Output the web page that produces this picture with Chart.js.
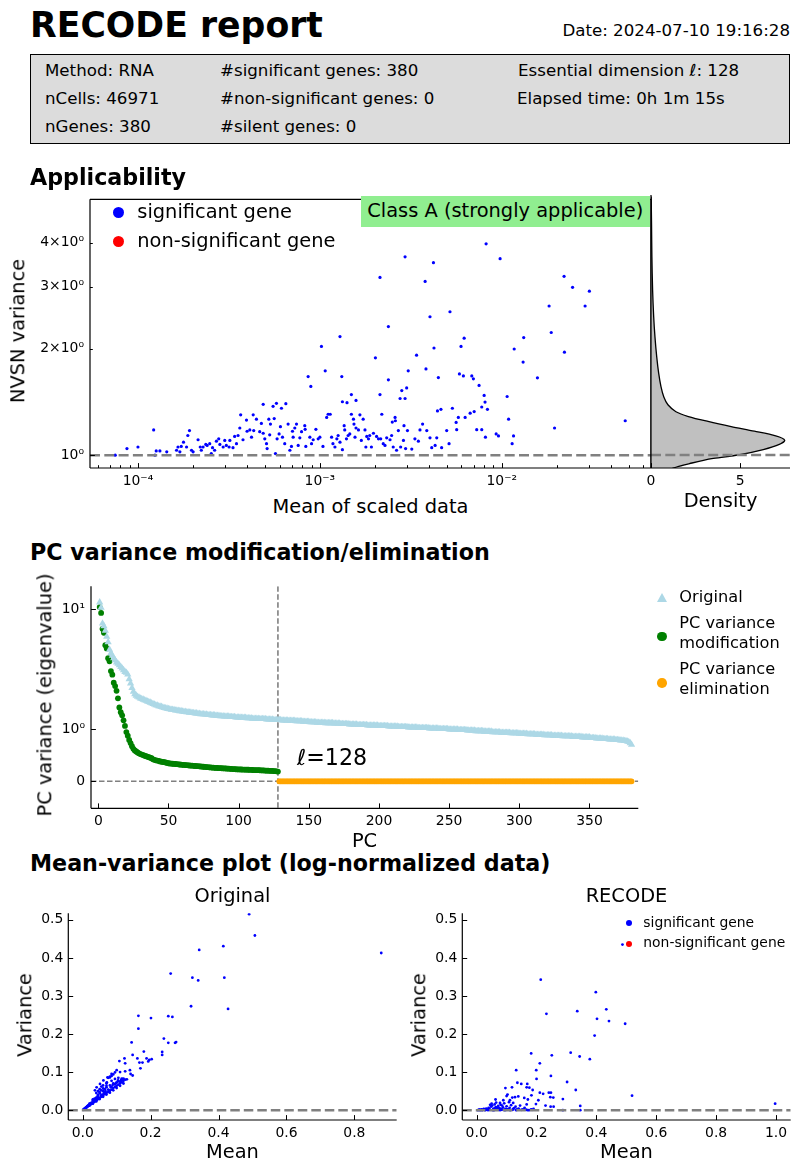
<!DOCTYPE html>
<html>
<head>
<meta charset="utf-8">
<title>RECODE report</title>
<script src="https://cdn.jsdelivr.net/npm/chart.js@4.4.1/dist/chart.umd.min.js"></script>
<style>
  body { margin: 0; background: #fff; }
  #page { position: relative; width: 800px; height: 1173px; overflow: hidden; font-family: 'DejaVu Sans', sans-serif; color: #000; }
  .t { position: absolute; white-space: nowrap; line-height: 1; }
  .v { position: absolute; white-space: nowrap; line-height: 1; transform: translate(-50%, -50%) rotate(-90deg); }
  canvas { position: absolute; }
  .dot { position: absolute; border-radius: 50%; }
  #infoBox { position: absolute; left: 30px; top: 54px; width: 758px; height: 88px; background: #dcdcdc; border: 1px solid #000; }
  #classBox { position: absolute; left: 361px; top: 196px; width: 289px; height: 31px; background: #90ee90; }
  #triMark { position: absolute; left: 657px; top: 593px; width: 10px; height: 9px; background: #add8e6; clip-path: polygon(50% 0, 100% 100%, 0 100%); }
</style>
</head>
<body>
<div id="page">
  <div id="infoBox"></div>
  <canvas id="appChart" width="640" height="310" style="left:20px;top:185px"></canvas>
  <canvas id="densChart" width="159" height="310" style="left:641px;top:185px"></canvas>
  <div id="classBox"></div>
  <canvas id="pcChart" width="630" height="265" style="left:20px;top:572px"></canvas>
  <div id="triMark"></div>
  <canvas id="mvOrigChart" width="400" height="250" style="left:0;top:900px"></canvas>
  <canvas id="mvRecChart" width="400" height="250" style="left:400px;top:900px"></canvas>
</div>
<script>
// ---- data ----

// Applicability: mean of scaled data vs NVSN variance (significant genes)
const appMean = [
  7.5e-5, 8.7e-5, 1.0e-4, 1.22e-4, 1.24e-4, 1.26e-4, 1.32e-4, 1.44e-4, 1.63e-4, 1.66e-4,
  1.70e-4, 1.73e-4, 1.78e-4, 1.85e-4, 1.88e-4, 1.92e-4, 1.97e-4, 2.01e-4, 2.14e-4, 2.20e-4,
  2.23e-4, 2.28e-4, 2.36e-4, 2.40e-4, 2.48e-4, 2.53e-4, 2.57e-4, 2.64e-4, 2.70e-4, 2.78e-4,
  2.82e-4, 2.94e-4, 3.00e-4, 3.06e-4, 3.17e-4, 3.20e-4, 3.33e-4, 3.40e-4, 3.48e-4, 3.55e-4,
  3.63e-4, 3.67e-4, 3.78e-4, 3.95e-4, 3.98e-4, 4.12e-4, 4.21e-4, 4.30e-4, 4.33e-4, 4.48e-4,
  4.67e-4, 4.77e-4, 4.88e-4, 4.88e-4, 4.98e-4, 5.09e-4, 5.13e-4, 5.24e-4, 5.30e-4, 5.35e-4,
  5.53e-4, 5.61e-4, 5.70e-4, 5.77e-4, 5.82e-4, 5.97e-4, 6.07e-4, 6.15e-4, 6.23e-4, 6.41e-4,
  6.50e-4, 6.69e-4, 6.84e-4, 6.98e-4, 7.07e-4, 7.13e-4, 7.28e-4, 7.44e-4, 7.60e-4, 7.76e-4,
  7.93e-4, 8.26e-4, 8.30e-4, 8.37e-4, 8.62e-4, 8.81e-4, 8.92e-4, 9.00e-4, 9.19e-4, 9.51e-4,
  9.79e-4, 1.00e-3, 1.02e-3, 1.04e-3, 1.07e-3, 1.09e-3, 1.11e-3,
  1.29e-3, 1.32e-3, 1.33e-3, 1.41e-3, 1.49e-3, 1.58e-3, 1.14e-3, 1.16e-3, 1.18e-3, 1.21e-3,
  1.24e-3, 1.26e-3, 1.29e-3, 1.33e-3, 1.36e-3, 1.37e-3, 1.40e-3, 1.43e-3, 1.46e-3, 1.49e-3,
  1.53e-3, 1.54e-3, 1.56e-3, 1.58e-3, 1.63e-3, 1.66e-3, 1.69e-3, 1.73e-3, 1.77e-3, 1.79e-3,
  1.81e-3, 1.85e-3, 1.88e-3, 1.92e-3, 1.97e-3, 2.02e-3, 2.05e-3, 2.10e-3, 2.14e-3, 2.14e-3,
  2.16e-3, 2.19e-3, 2.23e-3, 2.28e-3, 2.33e-3, 2.38e-3, 2.38e-3, 2.43e-3, 2.48e-3, 2.50e-3,
  2.53e-3, 2.59e-3, 2.60e-3, 2.64e-3, 2.70e-3, 2.76e-3, 2.78e-3, 2.82e-3, 2.88e-3, 2.90e-3,
  2.94e-3, 2.94e-3, 2.96e-3, 3.00e-3, 3.03e-3, 3.06e-3, 3.20e-3, 3.33e-3, 3.40e-3, 3.48e-3,
  3.55e-3, 3.67e-3, 3.79e-3, 3.83e-3, 3.87e-3, 4.03e-3, 4.03e-3, 4.12e-3, 4.21e-3, 4.24e-3,
  4.30e-3, 4.39e-3, 4.43e-3, 4.48e-3, 4.63e-3, 4.67e-3, 4.98e-3, 5.13e-3, 5.19e-3, 5.35e-3,
  5.61e-3, 5.65e-3, 5.77e-3, 5.85e-3, 5.97e-3, 6.15e-3, 6.21e-3, 6.29e-3, 6.70e-3, 6.84e-3,
  6.98e-3, 7.05e-3, 7.28e-3, 7.50e-3, 7.76e-3, 7.76e-3, 8.00e-3, 8.09e-3, 8.13e-3, 8.20e-3,
  8.34e-3, 9.31e-3, 9.59e-3, 9.79e-3, 1.07e-2, 1.09e-2, 1.14e-2, 1.16e-2, 1.17e-2, 1.31e-2,
  1.32e-2, 1.57e-2, 1.82e-2, 1.87e-2, 1.95e-2, 2.20e-2, 2.21e-2, 2.45e-2, 2.87e-2, 3.03e-2,
  4.77e-2
];
const appVar = [
  1.000, 1.044, 1.055, 1.179, 1.000, 1.028, 1.028, 1.022, 1.033, 1.055,
  1.022, 1.059, 1.089, 1.055, 1.137, 1.174, 1.033, 1.022, 1.106, 1.055,
  1.033, 1.055, 1.073, 1.066, 1.078, 1.011, 1.050, 1.033, 1.096, 1.113,
  1.073, 1.055, 1.101, 1.066, 1.055, 1.101, 1.050, 1.130, 1.078, 1.137,
  1.194, 1.301, 1.106, 1.257, 1.169, 1.179, 1.125, 1.301, 1.174, 1.265,
  1.166, 1.230, 1.393, 1.154, 1.113, 1.078, 1.044, 1.265, 1.142, 1.225,
  1.375, 1.270, 1.011, 1.402, 1.113, 1.149, 1.204, 1.358, 1.125, 1.078,
  1.399, 1.225, 1.033, 1.059, 1.169, 1.125, 1.194, 1.225, 1.066, 1.120,
  1.166, 1.212, 1.184, 1.059, 1.670, 1.125, 1.566, 1.078, 1.106, 1.184,
  1.113, 1.125, 2.032, 1.059, 1.733, 1.279, 1.306,
  2.167, 1.670, 1.417, 1.408, 1.485, 1.429, 1.306, 1.125, 1.078, 1.055,
  1.113, 1.137, 1.089, 1.037, 1.212, 1.179, 1.113, 1.137, 1.149, 1.306,
  1.265, 1.225, 1.125, 1.194, 1.179, 1.301, 1.101, 1.265, 1.179, 1.055,
  1.130, 1.113, 1.137, 1.055, 1.154, 1.887, 1.130, 1.113, 1.485, 3.187,
  1.113, 1.306, 1.078, 1.066, 1.120, 2.313, 1.635, 1.106, 1.137, 1.241,
  1.055, 1.279, 1.252, 1.033, 1.174, 1.447, 1.055, 1.524, 1.101, 1.212,
  3.643, 1.447, 1.044, 1.550, 1.174, 1.733, 1.041, 1.113, 1.919, 1.096,
  1.179, 1.225, 3.105, 1.755, 1.174, 2.466, 1.120, 1.050, 3.508, 2.011,
  1.066, 1.120, 1.335, 1.659, 1.349, 1.050, 1.174, 1.078, 2.547, 1.358,
  1.238, 1.181, 1.279, 1.699, 2.032, 1.677, 2.144, 1.279, 1.315, 1.677,
  1.645, 1.329, 1.181, 1.576, 1.369, 1.181, 1.476, 1.414, 1.125, 3.967,
  1.349, 1.149, 1.134, 3.600, 1.466, 1.265, 1.078, 1.134, 1.998, 1.835,
  2.153, 1.656, 2.645, 2.225, 1.194, 3.208, 1.957, 2.987, 2.645, 2.912,
  1.252
];

// Density of NVSN variance (side panel)
const densValue = [0.6, 1.2, 2.3, 3.5, 4.9, 6.3, 7.2, 7.5, 7.0, 5.8, 4.5, 3.2, 2.1, 1.4, 0.95, 0.72, 0.56, 0.43, 0.32, 0.22, 0.15, 0.09, 0.05, 0.03, 0.01];
const densVar = [0.88, 0.918, 0.95, 0.978, 1.0, 1.035, 1.07, 1.10, 1.13, 1.165, 1.20, 1.24, 1.28, 1.32, 1.38, 1.45, 1.55, 1.69, 1.88, 2.14, 2.43, 2.88, 3.57, 4.42, 5.25];

// PC variance: original eigenvalues (PC 1..380)
const origEig = [
  11.4, 10.3, 7.6, 7.2, 6.6, 5.9, 5.3, 4.6, 4.3, 4.1,
  3.9, 3.75, 3.6, 3.5, 3.4, 3.3, 3.2, 3.1, 3.0, 2.95,
  2.85, 2.6, 2.4, 2.2, 2.05, 1.95, 1.9, 1.86, 1.83, 1.80,
  1.78, 1.76, 1.74, 1.72, 1.70, 1.68, 1.66, 1.64, 1.62, 1.60,
  1.58, 1.57, 1.55, 1.54, 1.53, 1.51, 1.50, 1.49, 1.48, 1.47,
  1.46, 1.45, 1.45, 1.44, 1.43, 1.43, 1.42, 1.41, 1.41, 1.40,
  1.39, 1.39, 1.38, 1.38, 1.37, 1.37, 1.36, 1.36, 1.35, 1.35,
  1.34, 1.34, 1.33, 1.33, 1.33, 1.32, 1.32, 1.31, 1.31, 1.31,
  1.30, 1.30, 1.30, 1.29, 1.29, 1.29, 1.28, 1.28, 1.28, 1.27,
  1.27, 1.27, 1.27, 1.26, 1.26, 1.26, 1.26, 1.25, 1.25, 1.25,
  1.25, 1.24, 1.24, 1.24, 1.24, 1.23, 1.23, 1.23, 1.23, 1.22,
  1.22, 1.22, 1.22, 1.22, 1.21, 1.21, 1.21, 1.21, 1.21, 1.20,
  1.20, 1.20, 1.20, 1.20, 1.19, 1.19, 1.19, 1.19,
  1.19, 1.19, 1.18, 1.18, 1.18, 1.18, 1.18, 1.17, 1.17, 1.17,
  1.17, 1.17, 1.16, 1.16, 1.16, 1.16, 1.16, 1.15, 1.15, 1.15,
  1.15, 1.15, 1.14, 1.14, 1.14, 1.14, 1.14, 1.13, 1.13, 1.13,
  1.13, 1.13, 1.13, 1.12, 1.12, 1.12, 1.12, 1.12, 1.12, 1.11,
  1.11, 1.11, 1.11, 1.11, 1.10, 1.10, 1.10, 1.10, 1.10, 1.10,
  1.09, 1.09, 1.09, 1.09, 1.09, 1.09, 1.08, 1.08, 1.08, 1.08,
  1.08, 1.08, 1.08, 1.07, 1.07, 1.07, 1.07, 1.07, 1.07, 1.07,
  1.07, 1.06, 1.06, 1.06, 1.06, 1.06, 1.06, 1.06, 1.05, 1.05,
  1.05, 1.05, 1.05, 1.05, 1.05, 1.04, 1.04, 1.04, 1.04, 1.04,
  1.04, 1.04, 1.03, 1.03, 1.03, 1.03, 1.03, 1.03, 1.03, 1.02,
  1.02, 1.02, 1.02, 1.02, 1.02, 1.02, 1.02, 1.01, 1.01, 1.01,
  1.01, 1.01, 1.01, 1.01, 1.00, 1.00, 1.00, 1.00, 1.00, 1.00,
  1.00, 0.99, 0.99, 0.99, 0.99, 0.99, 0.99, 0.99, 0.98, 0.98,
  0.98, 0.98, 0.98, 0.98, 0.97, 0.97, 0.97, 0.97, 0.97, 0.97,
  0.96, 0.96, 0.96, 0.96, 0.96, 0.96, 0.95, 0.95, 0.95, 0.95,
  0.95, 0.95, 0.94, 0.94, 0.94, 0.94, 0.94, 0.94, 0.93, 0.93,
  0.93, 0.93, 0.93, 0.93, 0.93, 0.92, 0.92, 0.92, 0.92, 0.92,
  0.92, 0.91, 0.91, 0.91, 0.91, 0.91, 0.91, 0.90, 0.90, 0.90,
  0.90, 0.90, 0.90, 0.89, 0.89, 0.89, 0.89, 0.89, 0.89, 0.88,
  0.88, 0.88, 0.88, 0.88, 0.88, 0.87, 0.87, 0.87, 0.87, 0.87,
  0.87, 0.87, 0.86, 0.86, 0.86, 0.86, 0.86, 0.86, 0.86, 0.85,
  0.85, 0.85, 0.85, 0.85, 0.85, 0.85, 0.84, 0.84, 0.84, 0.84,
  0.84, 0.84, 0.83, 0.83, 0.83, 0.83, 0.82, 0.82, 0.82, 0.82,
  0.82, 0.81, 0.81, 0.81, 0.81, 0.80, 0.80, 0.80, 0.80, 0.80,
  0.79, 0.79, 0.79, 0.78, 0.78, 0.78, 0.77, 0.77, 0.76, 0.75,
  0.73, 0.70
];
// modified eigenvalues for PC 1..128
const modEig = [
  10.4, 9.3, 6.85, 6.35, 5.0, 4.7, 3.9, 3.67, 3.04, 2.84,
  2.43, 2.28, 2.08, 1.80, 1.51, 1.38, 1.30, 1.18, 1.06, 0.94,
  0.87, 0.79, 0.73, 0.67, 0.62, 0.59, 0.57, 0.55, 0.535, 0.52,
  0.51, 0.50, 0.49, 0.48, 0.47, 0.46, 0.45, 0.44, 0.42, 0.41,
  0.40, 0.395, 0.39, 0.38, 0.375, 0.37, 0.365, 0.36, 0.35, 0.345,
  0.34, 0.338, 0.335, 0.332, 0.33, 0.327, 0.324, 0.321, 0.318, 0.314,
  0.312, 0.31, 0.308, 0.305, 0.302, 0.3, 0.298, 0.295, 0.292, 0.29,
  0.288, 0.285, 0.283, 0.28, 0.278, 0.275, 0.272, 0.27, 0.267, 0.264,
  0.262, 0.26, 0.258, 0.256, 0.254, 0.252, 0.25, 0.249, 0.248, 0.246,
  0.244, 0.242, 0.24, 0.238, 0.236, 0.234, 0.232, 0.23, 0.229, 0.227,
  0.226, 0.225, 0.224, 0.223, 0.222, 0.221, 0.22, 0.219, 0.218, 0.216,
  0.215, 0.214, 0.213, 0.212, 0.211, 0.21, 0.208, 0.207, 0.205, 0.203,
  0.202, 0.2, 0.199, 0.197, 0.195, 0.193, 0.19, 0.185
];
const essentialDim = 128;
// PCs beyond the essential dimension are eliminated (variance set to 0)
const elimEig = new Array(origEig.length - essentialDim).fill(0);

// Mean-variance, original log-normalized data
const origMvMean = [
  0.490, 0.507, 0.343, 0.414, 0.879, 0.259, 0.323, 0.340, 0.417, 0.319,
  0.428, 0.164, 0.252, 0.264, 0.201, 0.164, 0.239, 0.144, 0.252, 0.272,
  0.275, 0.234, 0.234, 0.180, 0.147, 0.161, 0.188, 0.203, 0.193, 0.196,
  0.167, 0.176, 0.170, 0.123, 0.108, 0.125, 0.100, 0.095, 0.125, 0.139,
  0.141, 0.147, 0.085, 0.073, 0.080, 0.061, 0.071, 0.051, 0.041, 0.036,
  0.005, 0.008, 0.010, 0.012, 0.015, 0.018, 0.020, 0.022, 0.025, 0.028,
  0.030, 0.032, 0.035, 0.038, 0.040, 0.042, 0.045, 0.048, 0.050, 0.055,
  0.060, 0.065, 0.070, 0.075, 0.080, 0.085, 0.090, 0.095, 0.100, 0.105,
  0.110, 0.115, 0.120,
  0.020, 0.030, 0.040, 0.045, 0.050, 0.060, 0.065, 0.070, 0.080, 0.090,
  0.100, 0.110,
  0.040, 0.045, 0.050, 0.055, 0.060, 0.070, 0.075, 0.080, 0.085, 0.090,
  0.110, 0.104, 0.115,
  0.002, 0.003, 0.004, 0.006, 0.007, 0.009, 0.011, 0.013, 0.016, 0.019,
  0.021, 0.024, 0.027, 0.033, 0.037, 0.043, 0.053, 0.058, 0.068, 0.078,
  0.010, 0.020, 0.030, 0.040, 0.050, 0.060, 0.070, 0.080, 0.090, 0.100,
  0.110, 0.120,
  0.015, 0.025, 0.035, 0.045, 0.055, 0.065, 0.075, 0.085, 0.095, 0.105,
  0.115,
  0.030, 0.050, 0.060, 0.070, 0.085, 0.095, 0.105, 0.120, 0.125, 0.130,
  0.035, 0.055, 0.013, 0.017, 0.023, 0.026, 0.044, 0.062, 0.067, 0.083,
  0.088, 0.098, 0.113, 0.118
];
const origMvVar = [
  0.515, 0.459, 0.421, 0.431, 0.413, 0.359, 0.348, 0.341, 0.348, 0.273,
  0.266, 0.248, 0.247, 0.245, 0.242, 0.214, 0.188, 0.178, 0.177, 0.177,
  0.179, 0.153, 0.145, 0.154, 0.145, 0.136, 0.136, 0.134, 0.128, 0.132,
  0.125, 0.125, 0.110, 0.136, 0.129, 0.123, 0.105, 0.099, 0.102, 0.105,
  0.095, 0.091, 0.095, 0.086, 0.086, 0.078, 0.073, 0.069, 0.060, 0.052,
  0.003, 0.005, 0.006, 0.008, 0.010, 0.012, 0.013, 0.014, 0.016, 0.018,
  0.019, 0.021, 0.023, 0.024, 0.026, 0.027, 0.029, 0.031, 0.032, 0.035,
  0.038, 0.042, 0.045, 0.048, 0.051, 0.054, 0.058, 0.061, 0.064, 0.067,
  0.070, 0.073, 0.077,
  0.017, 0.026, 0.033, 0.040, 0.044, 0.050, 0.055, 0.060, 0.065, 0.070,
  0.073, 0.075,
  0.045, 0.050, 0.055, 0.062, 0.065, 0.070, 0.085, 0.088, 0.090, 0.094,
  0.100, 0.078, 0.078,
  0.001, 0.002, 0.002, 0.004, 0.005, 0.006, 0.008, 0.009, 0.011, 0.013,
  0.015, 0.017, 0.020, 0.025, 0.028, 0.030, 0.037, 0.040, 0.046, 0.052,
  0.006, 0.012, 0.017, 0.023, 0.029, 0.035, 0.041, 0.046, 0.052, 0.058,
  0.064, 0.070,
  0.011, 0.018, 0.025, 0.032, 0.040, 0.047, 0.054, 0.061, 0.068, 0.076,
  0.083,
  0.028, 0.047, 0.057, 0.064, 0.077, 0.082, 0.085, 0.083, 0.080, 0.081,
  0.030, 0.052, 0.010, 0.013, 0.018, 0.019, 0.036, 0.044, 0.050, 0.060,
  0.066, 0.071, 0.079, 0.081
];

// Mean-variance after RECODE
const recMvMean = [
  0.214, 0.398, 0.402, 0.433, 0.442, 0.496, 0.233, 0.336, 0.394, 0.314,
  0.344, 0.378, 0.182, 0.251, 0.211, 0.132, 0.199, 0.248, 0.200, 0.302,
  0.331, 0.519, 0.997, 0.346, 0.346, 0.288, 0.288, 0.256, 0.241, 0.248,
  0.222, 0.211, 0.206, 0.183, 0.176, 0.187, 0.167, 0.169, 0.149, 0.136,
  0.118, 0.096, 0.103, 0.100, 0.111, 0.119, 0.128, 0.122, 0.139, 0.159,
  0.167, 0.171, 0.182, 0.198, 0.230, 0.247, 0.257, 0.246, 0.063, 0.078,
  0.089, 0.487,
  0.004, 0.008, 0.012, 0.016, 0.020, 0.024, 0.028, 0.032, 0.036, 0.040,
  0.044, 0.048, 0.052, 0.056, 0.060, 0.064, 0.068, 0.072, 0.076, 0.080,
  0.084, 0.088, 0.092, 0.096, 0.100, 0.105, 0.110, 0.115, 0.120, 0.125,
  0.130, 0.135, 0.140, 0.150, 0.160, 0.170, 0.190, 0.050, 0.045, 0.065,
  0.070, 0.085, 0.030, 0.038, 0.058, 0.078, 0.098, 0.108, 0.145, 0.062,
  0.010, 0.018, 0.026, 0.034, 0.042, 0.054, 0.066, 0.074, 0.082, 0.094,
  0.102, 0.112, 0.122, 0.132, 0.155, 0.165, 0.175, 0.185
];
const recMvVar = [
  0.343, 0.310, 0.240, 0.265, 0.234, 0.227, 0.253, 0.260, 0.196, 0.151,
  0.141, 0.134, 0.149, 0.144, 0.123, 0.105, 0.105, 0.090, 0.082, 0.074,
  0.053, 0.038, 0.017, 0.011, 0.000, 0.000, 0.029, 0.033, 0.046, 0.046,
  0.043, 0.046, 0.026, 0.039, 0.059, 0.053, 0.060, 0.069, 0.069, 0.072,
  0.060, 0.058, 0.041, 0.037, 0.026, 0.033, 0.034, 0.019, 0.036, 0.032,
  0.015, 0.028, 0.002, 0.016, 0.012, 0.009, 0.009, 0.034, 0.028, 0.019,
  0.026, 0.435,
  0.000, 0.001, 0.000, 0.002, 0.001, 0.003, 0.000, 0.004, 0.002, 0.006,
  0.001, 0.009, 0.012, 0.004, 0.015, 0.008, 0.002, 0.011, 0.005, 0.014,
  0.001, 0.007, 0.018, 0.003, 0.010, 0.002, 0.006, 0.013, 0.001, 0.005,
  0.009, 0.002, 0.004, 0.001, 0.006, 0.000, 0.003, 0.017, 0.014, 0.020,
  0.006, 0.012, 0.001, 0.000, 0.000, 0.000, 0.001, 0.021, 0.012, 0.005,
  0.001, 0.000, 0.002, 0.001, 0.003, 0.000, 0.004, 0.001, 0.003, 0.000,
  0.002, 0.000, 0.003, 0.000, 0.002, 0.001, 0.000, 0.001
];

// ---- page text ----
const page = document.getElementById('page');

function addText(html, x, base, size, opt) {
  opt = opt || {};
  const d = document.createElement('div');
  d.className = 't';
  d.innerHTML = html;
  d.style.fontSize = size + 'px';
  d.style.top = (base - 0.846 * size) + 'px';
  if (opt.bold) d.style.fontWeight = 'bold';
  if (opt.anchor === 'middle') {
    d.style.left = x + 'px';
    d.style.transform = 'translateX(-50%)';
  } else if (opt.anchor === 'end') {
    d.style.right = (800 - x) + 'px';
  } else {
    d.style.left = x + 'px';
  }
  page.appendChild(d);
}

function addVText(html, cx, cy, size) {
  const d = document.createElement('div');
  d.className = 'v';
  d.innerHTML = html;
  d.style.fontSize = size + 'px';
  d.style.left = cx + 'px';
  d.style.top = cy + 'px';
  page.appendChild(d);
}

function addDot(cx, cy, r, color) {
  const d = document.createElement('div');
  d.className = 'dot';
  d.style.left = (cx - r) + 'px';
  d.style.top = (cy - r) + 'px';
  d.style.width = d.style.height = (2 * r) + 'px';
  d.style.background = color;
  page.appendChild(d);
}

addText('RECODE report', 30, 37, 34.7, { bold: true });
addText('Date: 2024-07-10 19:16:28', 790, 37, 16.67, { anchor: 'end' });

addText('Method: RNA', 45, 77, 16.67);
addText('nCells: 46971', 45, 105, 16.67);
addText('nGenes: 380', 45, 133, 16.67);
addText('#significant genes: 380', 220, 77, 16.67);
addText('#non-significant genes: 0', 220, 105, 16.67);
addText('#silent genes: 0', 220, 133, 16.67);
addText('Essential dimension <i>ℓ</i>: 128', 518, 77, 16.67);
addText('Elapsed time: 0h 1m 15s', 517, 105, 16.67);

addText('Applicability', 30, 185, 22.2, { bold: true });
addText('PC variance modification/elimination', 30, 560, 22.2, { bold: true });
addText('Mean-variance plot (log-normalized data)', 30, 871, 22.2, { bold: true });

// applicability labels and legend
addVText('NVSN variance', 18, 331, 19.4);
addText('Mean of scaled data', 370.5, 513, 19.4, { anchor: 'middle' });
addText('Density', 720.5, 507, 19.4, { anchor: 'middle' });
addDot(118, 212.7, 5.5, '#0000ff');
addText('significant gene', 137.3, 218.5, 19.4);
addDot(118, 241, 5.5, '#ff0000');
addText('non-significant gene', 137.3, 247, 19.4);
addText('Class A (strongly applicable)', 367.3, 217.5, 19.4);

// PC chart labels and legend
addVText('PC variance (eigenvalue)', 45, 695, 19.4);
addText('PC', 364.5, 847, 19.4, { anchor: 'middle' });
addText('<i>ℓ</i>=128', 297, 765, 22.2);
addText('Original', 679.3, 602.5, 16.2);
addDot(662, 636.7, 4.8, '#008000');
addText('PC variance', 679.3, 628.5, 16.2);
addText('modification', 679.3, 648.5, 16.2);
addDot(662, 683, 4.8, '#ffa500');
addText('PC variance', 679.3, 675, 16.2);
addText('elimination', 679.3, 695, 16.2);

// mean-variance labels
addText('Original', 232.5, 902, 19.4, { anchor: 'middle' });
addText('RECODE', 626.5, 902, 19.4, { anchor: 'middle' });
addText('Mean', 232.5, 1158, 19.4, { anchor: 'middle' });
addText('Mean', 626.5, 1158, 19.4, { anchor: 'middle' });
addVText('Variance', 25, 1015, 19.4);
addVText('Variance', 419, 1015, 19.4);
addDot(629.3, 923.3, 3, '#0000ff');
addText('significant gene', 643.3, 927.5, 13.9);
addDot(629.3, 944, 3, '#ff0000');
addText('non-significant gene', 643.3, 948, 13.9);

// ---- Chart.js setup ----
Chart.defaults.font.family = "'DejaVu Sans', sans-serif";
Chart.defaults.font.size = 13.9;
Chart.defaults.color = '#000';
Chart.defaults.animation = false;
Chart.defaults.responsive = false;
Chart.defaults.events = [];
Chart.defaults.plugins.legend.display = false;
Chart.defaults.plugins.tooltip.enabled = false;
Chart.defaults.layout.autoPadding = false;

// symmetric log scale: linear below 1, log10 above
const LIN_SCALE = 0.437;
class SymlogScale extends Chart.LinearScale {
  static id = 'symlog';
  static defaults = Chart.LinearScale.defaults;
  fwd(v) {
    const a = Math.abs(v);
    return a <= 1 ? v * LIN_SCALE : Math.sign(v) * (LIN_SCALE + Math.log10(a));
  }
  back(t) {
    const a = Math.abs(t);
    return a <= LIN_SCALE ? t / LIN_SCALE : Math.sign(t) * Math.pow(10, a - LIN_SCALE);
  }
  configure() {
    super.configure();
    this._tMin = this.fwd(this.min);
    this._tRange = this.fwd(this.max) - this._tMin;
  }
  getPixelForValue(v) {
    return this.getPixelForDecimal((this.fwd(v) - this._tMin) / this._tRange);
  }
  getValueForPixel(p) {
    return this.back(this._tMin + this.getDecimalForPixel(p) * this._tRange);
  }
}
Chart.register(SymlogScale);

// draws spines, inward tick marks and dashed reference lines
function refLines(chart, opts, under) {
  const ctx = chart.ctx;
  const a = chart.chartArea;
  (opts.lines || []).forEach(l => {
    if (!!l.under !== under) return;
    const sc = chart.scales[l.axis];
    const p = sc.getPixelForValue(l.value);
    ctx.save();
    ctx.beginPath();
    ctx.rect(a.left, a.top, a.right - a.left, a.bottom - a.top);
    ctx.clip();
    ctx.strokeStyle = '#808080';
    ctx.lineWidth = l.width;
    ctx.setLineDash(Array.from(l.dash));
    ctx.beginPath();
    if (sc.isHorizontal()) { ctx.moveTo(p, a.top); ctx.lineTo(p, a.bottom); }
    else { ctx.moveTo(a.left, p); ctx.lineTo(a.right, p); }
    ctx.stroke();
    ctx.restore();
  });
}

const framePlugin = {
  id: 'frame',
  beforeDatasetsDraw(chart, args, opts) { refLines(chart, opts, true); },
  afterDatasetsDraw(chart, args, opts) {
    refLines(chart, opts, false);
    const ctx = chart.ctx;
    const a = chart.chartArea;
    ctx.save();
    ctx.strokeStyle = '#000';
    ctx.lineWidth = 1;
    (opts.marks || []).forEach(m => {
      const sc = chart.scales[m.axis];
      m.values.forEach(v => {
        const p = Math.round(sc.getPixelForValue(v)) + 0.5;
        ctx.beginPath();
        if (sc.isHorizontal()) { ctx.moveTo(p, a.bottom); ctx.lineTo(p, a.bottom - m.len); }
        else { ctx.moveTo(a.left, p); ctx.lineTo(a.left + m.len, p); }
        ctx.stroke();
      });
    });
    const sp = opts.spines || [];
    ctx.lineWidth = 1.2;
    ctx.beginPath();
    if (sp.includes('left')) { ctx.moveTo(a.left, a.top); ctx.lineTo(a.left, a.bottom); }
    if (sp.includes('bottom')) { ctx.moveTo(a.left, a.bottom); ctx.lineTo(a.right, a.bottom); }
    if (sp.includes('top')) { ctx.moveTo(a.left, a.top); ctx.lineTo(a.right, a.top); }
    if (sp.includes('right')) { ctx.moveTo(a.right, a.top); ctx.lineTo(a.right, a.bottom); }
    ctx.stroke();
    ctx.restore();
  }
};
Chart.register(framePlugin);

function fixedAxis(type, min, max, tickVals, fmt, size, pad, display) {
  return {
    type: type,
    min: min,
    max: max,
    display: display !== false,
    grid: { display: false, drawTicks: false },
    border: { display: false },
    ticks: { autoSkip: false, maxRotation: 0, minRotation: 0, padding: pad, callback: v => fmt(v) },
    afterBuildTicks: s => { s.min = min; s.max = max; s.ticks = tickVals.map(v => ({ value: v })); },
    afterFit: s => { if (s.isHorizontal()) s.height = size; else s.width = size; }
  };
}

function toPoints(xs, ys) {
  return xs.map((x, i) => ({ x: x, y: ys[i] }));
}

// ---- Applicability scatter ----
const appXMajor = [1e-4, 1e-3, 1e-2];
const appXLabels = ['10⁻⁴', '10⁻³', '10⁻²'];
const appXMinor = [6e-5, 7e-5, 8e-5, 9e-5, 2e-4, 3e-4, 4e-4, 5e-4, 6e-4, 7e-4, 8e-4, 9e-4,
  2e-3, 3e-3, 4e-3, 5e-3, 6e-3, 7e-3, 8e-3, 9e-3, 2e-2, 3e-2, 4e-2, 5e-2, 6e-2];
const appYTicks = [1, 2, 3, 4];
const appYLabels = ['10⁰', '2×10⁰', '3×10⁰', '4×10⁰'];
const appYMin = 0.92, appYMax = 5.3;

new Chart(document.getElementById('appChart'), {
  type: 'scatter',
  data: {
    datasets: [{
      data: toPoints(appMean, appVar),
      backgroundColor: '#0000ff',
      pointRadius: 1.6,
      pointBorderWidth: 0
    }]
  },
  options: {
    layout: { padding: { left: 0, top: 10, right: 9, bottom: 0 } },
    scales: {
      x: fixedAxis('logarithmic', 5.45e-5, 0.0661, appXMajor.concat(appXMinor),
        v => appXLabels[appXMajor.indexOf(v)] || '', 27, 5),
      y: fixedAxis('logarithmic', appYMin, appYMax, appYTicks,
        v => appYLabels[appYTicks.indexOf(v)] || '', 70, 6)
    },
    plugins: {
      frame: {
        spines: ['left', 'bottom', 'top', 'right'],
        marks: [
          { axis: 'x', values: appXMajor, len: 4.9 },
          { axis: 'x', values: appXMinor, len: 2.8 },
          { axis: 'y', values: [1], len: 4.9 },
          { axis: 'y', values: [2, 3, 4], len: 2.8 }
        ],
        lines: [{ axis: 'y', value: 1, width: 2.5, dash: [10, 4.3] }]
      }
    }
  }
});

// ---- Density side panel ----
new Chart(document.getElementById('densChart'), {
  type: 'line',
  data: {
    datasets: [{
      data: toPoints(densValue, densVar),
      borderColor: '#000',
      borderWidth: 1.3,
      backgroundColor: '#c0c0c0',
      fill: 'origin',
      pointRadius: 0,
      tension: 0.3
    }]
  },
  options: {
    indexAxis: 'y',
    layout: { padding: { left: 10, top: 10, right: 10, bottom: 0 } },
    scales: {
      x: fixedAxis('linear', 0, 7.8, [0, 5], v => String(v), 27, 5),
      y: fixedAxis('logarithmic', appYMin, appYMax, [1], v => '', 0, 0, false)
    },
    plugins: {
      frame: {
        spines: ['left', 'bottom'],
        marks: [{ axis: 'x', values: [0, 5], len: 4.9 }],
        lines: [{ axis: 'y', value: 1, width: 2.5, dash: [10, 4.3] }]
      }
    }
  }
});

// ---- PC variance chart ----
const pcXTicks = [0, 50, 100, 150, 200, 250, 300, 350];
const pcYTicks = [0, 1, 10];
const pcYLabels = ['0', '10⁰', '10¹'];

new Chart(document.getElementById('pcChart'), {
  type: 'scatter',
  data: {
    datasets: [
      {
        label: 'Original',
        data: origEig.map((v, i) => ({ x: i + 1, y: v })),
        pointStyle: 'triangle',
        pointRadius: 4.2,
        pointBorderWidth: 0,
        backgroundColor: '#add8e6'
      },
      {
        label: 'PC variance modification',
        data: modEig.map((v, i) => ({ x: i + 1, y: v })),
        pointRadius: 2.9,
        pointBorderWidth: 0,
        backgroundColor: '#008000'
      },
      {
        label: 'PC variance elimination',
        data: elimEig.map((v, i) => ({ x: essentialDim + i + 1, y: v })),
        pointRadius: 2.9,
        pointBorderWidth: 0,
        backgroundColor: '#ffa500'
      }
    ]
  },
  options: {
    layout: { padding: { left: 0, top: 10, right: 11.7, bottom: 0 } },
    scales: {
      x: fixedAxis('linear', -5.2, 384.8, pcXTicks, v => String(v), 28.7, 5),
      y: fixedAxis('symlog', -0.516, 15.5, pcYTicks,
        v => pcYLabels[pcYTicks.indexOf(v)] || '', 71, 6)
    },
    plugins: {
      frame: {
        spines: ['left', 'bottom'],
        marks: [
          { axis: 'x', values: pcXTicks, len: 4.9 },
          { axis: 'y', values: pcYTicks, len: 4.9 }
        ],
        lines: [
          { axis: 'y', value: 0, width: 1.6, dash: [5.5, 2.5], under: true },
          { axis: 'x', value: essentialDim, width: 1.6, dash: [5.5, 2.5], under: true }
        ]
      }
    }
  }
});

// ---- Mean-variance plots ----
const mvYTicks = [0, 0.1, 0.2, 0.3, 0.4, 0.5];
const mvOrigXTicks = [0, 0.2, 0.4, 0.6, 0.8];
const mvRecXTicks = [0, 0.2, 0.4, 0.6, 0.8, 1.0];

function mvChart(id, xs, ys, xMin, xMax, xTicks, yWidth, padRight) {
  return new Chart(document.getElementById(id), {
    type: 'scatter',
    data: {
      datasets: [{
        data: toPoints(xs, ys),
        backgroundColor: '#0000ff',
        pointRadius: 1.4,
        pointBorderWidth: 0
      }]
    },
    options: {
      layout: { padding: { left: 0, top: 10, right: padRight, bottom: 0 } },
      scales: {
        x: fixedAxis('linear', xMin, xMax, xTicks, v => v.toFixed(1), 30, 5),
        y: fixedAxis('linear', -0.0259, 0.5172, mvYTicks, v => v.toFixed(1), yWidth, 5)
      },
      plugins: {
        frame: {
          spines: ['left', 'bottom'],
          marks: [
            { axis: 'x', values: xTicks, len: 4.9 },
            { axis: 'y', values: mvYTicks, len: 4.9 }
          ],
          lines: [{ axis: 'y', value: 0, width: 2.5, dash: [9.5, 4] }]
        }
      }
    }
  });
}

mvChart('mvOrigChart', origMvMean, origMvVar, -0.0424, 0.9245, mvOrigXTicks, 68.3, 3.3);
mvChart('mvRecChart', recMvMean, recMvVar, -0.048, 1.049, mvRecXTicks, 62.3, 9.3);
</script>
</body>
</html>
